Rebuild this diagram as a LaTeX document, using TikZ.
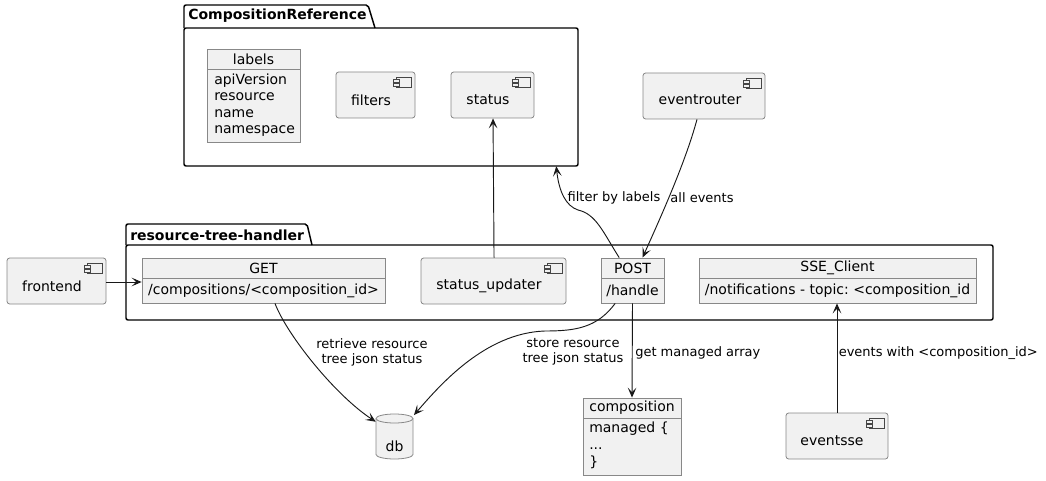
\documentclass[tikz,border=0pt]{standalone}
\usepackage{fontspec}
\setmainfont{DejaVu Sans}
\usetikzlibrary{arrows.meta,fit}
\definecolor{boxfill}{HTML}{F1F1F1}
\definecolor{bordergray}{HTML}{888888}
\definecolor{linecol}{HTML}{181818}
\frenchspacing
\tikzset{
  box/.style={draw=bordergray, fill=boxfill, inner sep=0pt, line width=0.6pt,
    font=\fontsize{10.5}{12.2}\selectfont, text=black},
  comp/.style={box, rounded corners=2pt},
  obj/.style={box},
  pkg/.style={draw=black, line width=1.1pt, rounded corners=1.5pt},
  pkgtitle/.style={font=\bfseries\fontsize{10.5}{12}\selectfont, inner sep=0pt, anchor=west},
  txt/.style={font=\fontsize{10.5}{12.2}\selectfont, inner sep=0pt},
  lbl/.style={font=\fontsize{9.75}{11.2}\selectfont, inner sep=0pt, align=center},
  arr/.style={draw=linecol, line width=0.7pt, -{Stealth[length=7.5pt,width=6.5pt,inset=3.5pt]}},
  icon/.style={draw=linecol!80, fill=boxfill, line width=0.45pt}
}
\newcommand{\compicon}[1]{%
  \draw[icon] ([xshift=-14.25pt,yshift=-4.5pt]#1.north east) rectangle ([xshift=-3pt,yshift=-12pt]#1.north east);
  \draw[icon] ([xshift=-16.5pt,yshift=-6pt]#1.north east) rectangle ([xshift=-12pt,yshift=-7.9pt]#1.north east);
  \draw[icon] ([xshift=-16.5pt,yshift=-9pt]#1.north east) rectangle ([xshift=-12pt,yshift=-10.9pt]#1.north east);
}
\begin{document}
\begin{tikzpicture}[x=0.75pt,y=-0.75pt]
\useasboundingbox (0,0) rectangle (1046,481);

% ---------- packages ----------
\draw[pkg] (184,28) -- (184,5) -- (368,5) -- (375,28);
\draw[pkg] (184,28) rectangle (578,166);
\node[pkgtitle] (cmpreftitle) at (188,16) {CompositionReference};
\node[inner sep=0pt, fit={(184,28) (578,166)}] (cmpref) {};

\draw[pkg] (126,245) -- (126,224) -- (307,224) -- (312,245);
\draw[pkg] (126,245) rectangle (993,320);
\node[pkgtitle] (rthtitle) at (130,235) {resource-tree-handler};

% ---------- CompositionReference content ----------
\node[obj, fit={(207,49) (300,69)}] (labelshead) {};
\node[txt] (labelstitle) at (253.5,59) {labels};
\node[obj, fit={(207,69) (300,142)}] (labelsbody) {};
\node[txt, anchor=north west, align=left, font=\fontsize{10.5}{12.3}\selectfont] (labelstext) at (214,73.5)
  {apiVersion\\resource\\name\\namespace};

\node[comp, fit={(336,72) (415,118)}] (filters) {};
\node[txt] (filterstext) at (371,100) {filters};
\compicon{filters}

\node[comp, fit={(451,72) (534,118)}] (status) {};
\node[txt] (statustext) at (488,100) {status};
\compicon{status}

\node[comp, fit={(643,73) (765,119)}] (eventrouter) {};
\node[txt] (eventroutertext) at (700,100) {eventrouter};
\compicon{eventrouter}

% ---------- outside left ----------
\node[comp, fit={(7,258) (106,304)}] (frontend) {};
\node[txt] (frontendtext) at (52,286) {frontend};
\compicon{frontend}

% ---------- resource-tree-handler content ----------
\node[obj, fit={(142,258) (385,278)}] (GEThead) {};
\node[txt] (GETtitle) at (263.5,268) {GET};
\node[obj, fit={(142,278) (385,303)}] (GET) {};
\node[txt] (GETtext) at (263.5,291) {/compositions/<composition\_id>};

\node[comp, fit={(421,258) (566,304)}] (statusupdater) {};
\node[txt] (statusupdatertext) at (489,286) {status\_updater};
\compicon{statusupdater}

\node[obj, fit={(601,258) (664,278)}] (POSThead) {};
\node[txt] (POSTtitle) at (632.5,268) {POST};
\node[obj, fit={(601,278) (664,303)}] (POST) {};
\node[txt] (POSTtext) at (632.5,291) {/handle};

\node[obj, fit={(699,258) (976,278)}] (SSEhead) {};
\node[txt] (SSEtitle) at (837.5,268) {SSE\_Client};
\node[obj, fit={(699,278) (976,303)}] (SSE) {};
\node[txt] (SSEtext) at (837.5,291) {/notifications - topic: <composition\_id};

% ---------- bottom ----------
\node[inner sep=0pt, fit={(376,414) (413,459)}] (db) {};
\draw[draw=bordergray, fill=boxfill, line width=0.6pt]
  (376,418.5) -- (376,454.5)
  arc[start angle=180, end angle=360, x radius=13.875pt, y radius=3.375pt]
  -- (413,418.5)
  arc[start angle=0, end angle=180, x radius=13.875pt, y radius=3.375pt] -- cycle;
\draw[draw=bordergray, line width=0.6pt]
  (376,418.5) arc[start angle=180, end angle=360, x radius=13.875pt, y radius=3.375pt];
\node[txt] (dbtext) at (394.5,446) {db};

\node[obj, fit={(583,398) (681,418)}] (compositionhead) {};
\node[txt] (compositiontitle) at (632,408) {composition};
\node[obj, fit={(583,418) (681,475)}] (composition) {};
\node[txt, anchor=north west, align=left, font=\fontsize{10.5}{12.6}\selectfont] (compositiontext) at (589,422)
  {managed \{\\...\\\}};

\node[comp, fit={(786,413) (888,459)}] (eventsse) {};
\node[txt] (eventssetext) at (832,441) {eventsse};
\compicon{eventsse}

% ---------- connectors ----------
\draw[arr] (frontend.east |- 0,282) -- (GEThead.west |- 0,282);

\draw[arr] ([xshift=0.4pt]statusupdater.north) -- ([xshift=0.4pt]status.south);

\draw[arr] ([xshift=-10pt]POSThead.north) .. controls (603,232) and (596,214) .. (578,210)
  .. controls (566,206) and (559,192) .. ([xshift=-16.5pt]cmpref.south east);
\node[lbl] (lblfilter) at (614,198) {filter by labels};

\draw[arr] ([xshift=-5.25pt]eventrouter.south) .. controls (686,160) and (664,210) .. ([xshift=7.5pt]POSThead.north);
\node[lbl] (lblall) at (702,198) {all events};

\draw[arr] ([xshift=8.6pt]GET.south) .. controls (287,335) and (335,395) .. ([yshift=-6pt]db.north west);
\node[lbl] (lblretrieve) at (372,352) {retrieve resource\\tree json status};

\draw[arr] ([xshift=-13pt]POST.south) .. controls (597,328) and (575,331) .. (545,331)
  .. controls (485,333) and (440,385) .. ([xshift=0.5pt,yshift=-1pt]db.north east);
\node[lbl] (lblstore) at (573,352) {store resource\\tree json status};

\draw[arr] (POST.south) -- (compositionhead.north);
\node[lbl, anchor=west] (lblmanaged) at (635,353) {get managed array};

\draw[arr] (eventsse.north) -- (eventsse.north |- SSE.south);
\node[lbl, anchor=west] (lblevents) at (838.5,353) {events with <composition\_id>};
\end{tikzpicture}
\end{document}
